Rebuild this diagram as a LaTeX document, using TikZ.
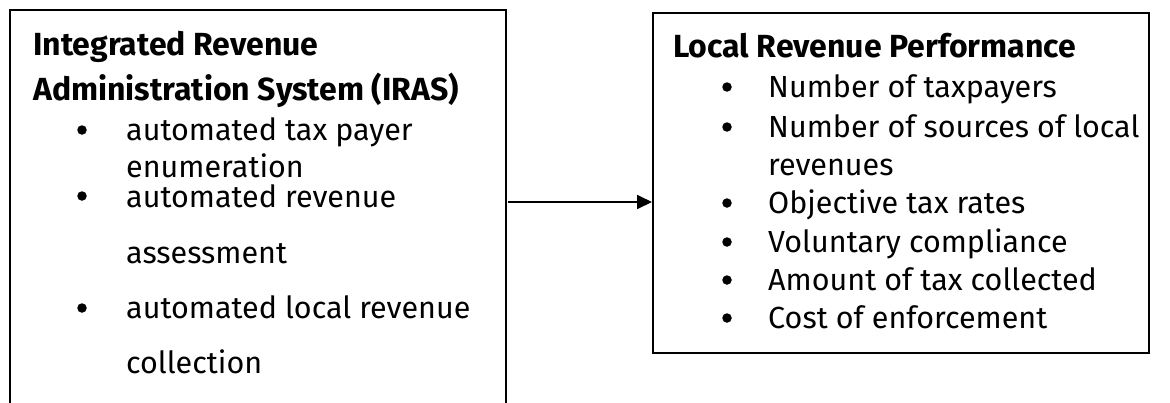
\documentclass[tikz,border=0pt]{standalone}
\usepackage{fontspec}
\setmainfont{Fira Sans}
\usetikzlibrary{arrows.meta}
\begin{document}
\begin{tikzpicture}[x=1pt,y=-1pt,
  boxline/.style={draw=black,line width=1.8pt},
  ttl/.style={anchor=base west,inner sep=0pt,font=\fontsize{32}{38}\selectfont\bfseries},
  itm/.style={anchor=base west,inner sep=0pt,font=\fontsize{30.5}{38}\selectfont},
  bul/.style={circle,fill=black,inner sep=0pt,minimum size=9.5pt},
  conn/.style={line width=1.8pt,-{Triangle[length=15pt,width=14pt]}}]
\useasboundingbox (0,0) rectangle (1170,402);
\clip (0,0) rectangle (1170,402);
% boxes
\node[boxline,rectangle,minimum width=496pt,minimum height=430pt,anchor=north west,inner sep=0pt] (lbox) at (9,9) {};
\node[boxline,rectangle,minimum width=496pt,minimum height=340pt,anchor=north west,inner sep=0pt] (rbox) at (652,12) {};
% left text
\node[ttl] (l1) at (33,55) {Integrated Revenue};
\node[ttl] (l2) at (33,100) {Administration System (IRAS)};
\node[bul] (lb1) at (82,130) {};
\node[itm] (l3) at (126,140) {automated tax payer};
\node[itm] (l4) at (126,177) {enumeration};
\node[bul] (lb2) at (82,196) {};
\node[itm] (l5) at (126,207) {automated revenue};
\node[itm] (l6) at (126,263) {assessment};
\node[bul] (lb3) at (82,308) {};
\node[itm] (l7) at (126,318) {automated local revenue};
\node[itm] (l8) at (126,373) {collection};
% right text
\node[ttl] (r1) at (673,57) {Local Revenue Performance};
\node[bul] (rb1) at (727,87) {};
\node[itm] (r2) at (768,97) {Number of taxpayers};
\node[bul] (rb2) at (727,127) {};
\node[itm] (r3) at (768,137) {Number of sources of local};
\node[itm] (r4) at (768,175) {revenues};
\node[bul] (rb3) at (727,203) {};
\node[itm] (r5) at (768,213) {Objective tax rates};
\node[bul] (rb4) at (727,242) {};
\node[itm] (r6) at (768,252) {Voluntary compliance};
\node[bul] (rb5) at (727,280) {};
\node[itm] (r7) at (768,290) {Amount of tax collected};
\node[bul] (rb6) at (727,318) {};
\node[itm] (r8) at (768,328) {Cost of enforcement};
% arrow
\coordinate (a0) at (508,202);
\draw[conn] (a0) -- (a0 -| rbox.west);
\end{tikzpicture}
\end{document}
